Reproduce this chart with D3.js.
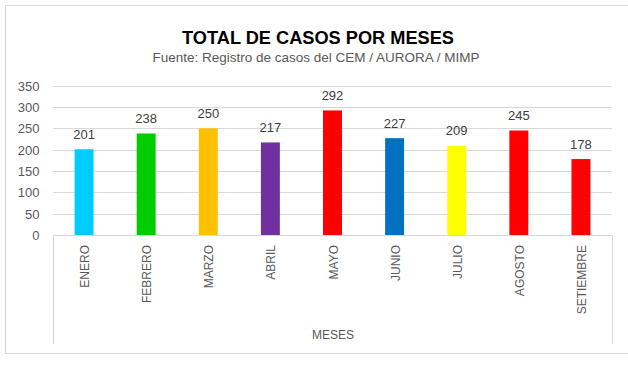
<!DOCTYPE html>
<html><head><meta charset="utf-8">
<script src="https://cdn.jsdelivr.net/npm/d3@7"></script>
<style>
html,body{margin:0;padding:0;background:#fff;}
svg{display:block;font-family:"Liberation Sans",Arial,sans-serif;}
</style></head>
<body><svg id="c" width="628" height="365"></svg>
<script>
const titleText = "TOTAL DE CASOS POR MESES";
const subtitleText = "Fuente: Registro de casos del CEM / AURORA / MIMP";
const axisTitle = "MESES";
const categories = ["ENERO","FEBRERO","MARZO","ABRIL","MAYO","JUNIO","JULIO","AGOSTO","SETIEMBRE"];
const values = [201,238,250,217,292,227,209,245,178];
const colors = ["#00CCFF","#00CC00","#FFC000","#7030A0","#FF0000","#0070C0","#FFFF00","#FF0000","#FF0000"];
const yTicks = [0,50,100,150,200,250,300,350];

const svg = d3.select("#c");
const plotLeft = 53, plotRight = 612, plotTop = 85.7, plotBottom = 235;
const grid = "#d9d9d9";

svg.append("rect").attr("x",5.5).attr("y",5.5).attr("width",640).attr("height",348)
  .attr("fill","#fff").attr("stroke",grid);

svg.append("text").attr("x",318).attr("y",44).attr("text-anchor","middle")
  .attr("font-size",18.2).attr("font-weight","bold").attr("fill","#000").text(titleText);
svg.append("text").attr("x",316).attr("y",62).attr("text-anchor","middle")
  .attr("font-size",13.5).attr("fill","#595959").text(subtitleText);

const x = d3.scaleBand().domain(categories).range([plotLeft,plotRight]).padding(0);
const y = d3.scaleLinear().domain([0,350]).range([plotBottom,plotTop]);

// gridlines
svg.append("g").selectAll("line").data(yTicks).join("line")
  .attr("x1",plotLeft).attr("x2",plotRight)
  .attr("y1",d=>Math.round(y(d))+0.5).attr("y2",d=>Math.round(y(d))+0.5)
  .attr("stroke",grid).attr("stroke-width",1);

// y labels
svg.append("g").selectAll("text").data(yTicks).join("text")
  .attr("x",39.5).attr("y",d=>y(d)+5).attr("text-anchor","end")
  .attr("font-size",13).attr("fill","#595959").text(d=>d);

// category box lines
[plotLeft,plotRight].forEach(xx=>{
  svg.append("line").attr("x1",Math.round(xx)+0.5).attr("x2",Math.round(xx)+0.5)
    .attr("y1",plotBottom).attr("y2",344).attr("stroke",grid);
});

const bw = x.bandwidth()*0.305;
// bars
svg.append("g").selectAll("rect").data(values).join("rect")
  .attr("x",(d,i)=>x(categories[i])+x.bandwidth()/2-bw/2)
  .attr("width",bw)
  .attr("y",d=>y(d)).attr("height",d=>plotBottom-y(d))
  .attr("fill",(d,i)=>colors[i]);

// value labels
svg.append("g").selectAll("text").data(values).join("text")
  .attr("x",(d,i)=>x(categories[i])+x.bandwidth()/2)
  .attr("y",d=>y(d)-10.5).attr("text-anchor","middle")
  .attr("font-size",13).attr("fill","#404040").text(d=>d);

// category labels
svg.append("g").selectAll("text").data(categories).join("text")
  .attr("transform",d=>`translate(${x(d)+x.bandwidth()/2+5},245) rotate(-90)`)
  .attr("text-anchor","end").attr("font-size",12).attr("fill","#595959").text(d=>d);

svg.append("text").attr("x",333).attr("y",339).attr("text-anchor","middle")
  .attr("font-size",12).attr("fill","#595959").text(axisTitle);
</script></body></html>
